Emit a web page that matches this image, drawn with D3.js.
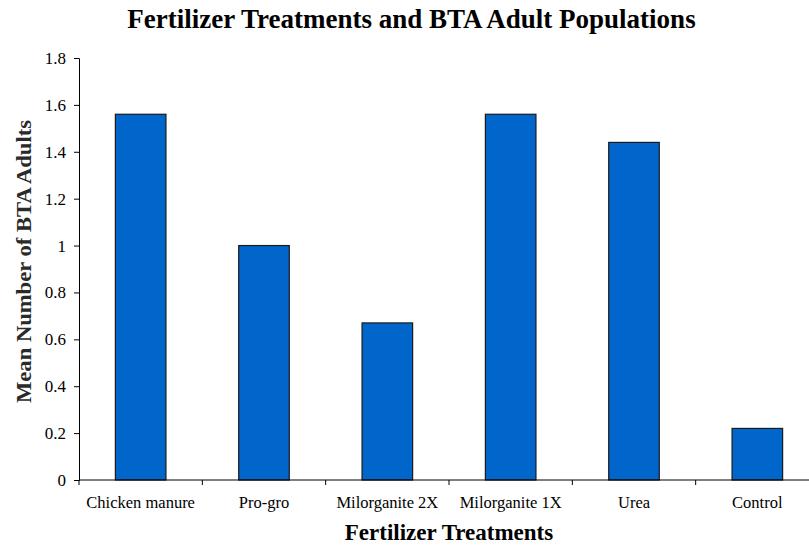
<!DOCTYPE html>
<html lang="en">
<head>
    <meta charset="UTF-8">
    <title>Fertilizer Treatments and BTA Adult Populations</title>
    <style>
        body, html { margin: 0; padding: 0; background: #ffffff; }
        svg { display: block; }
        svg text { font-family: "Liberation Serif", "Times New Roman", serif; }
    </style>
</head>
<body>
    <div id="chart"></div>
    <script src="https://d3js.org/d3.v7.min.js"></script>
    <script>
        // Chart data
        const treatments = ["Chicken manure", "Pro-gro", "Milorganite 2X", "Milorganite 1X", "Urea", "Control"];
        const meanAdults = [1.56, 1.0, 0.67, 1.56, 1.44, 0.22];
        const yTicks = [0, 0.2, 0.4, 0.6, 0.8, 1, 1.2, 1.4, 1.6, 1.8];

        const width = 809, height = 547;
        // plot area runs off the right edge, like the original
        const plot = { left: 79, right: 819, top: 58, bottom: 480 };

        const svg = d3.select("#chart").append("svg")
            .attr("width", width)
            .attr("height", height);

        const x = d3.scaleBand()
            .domain(treatments)
            .range([plot.left, plot.right])
            .paddingInner(0.59)
            .paddingOuter(0.295);

        const xCat = d3.scaleBand()
            .domain(treatments)
            .range([plot.left, plot.right]);

        const y = d3.scaleLinear()
            .domain([0, 1.8])
            .range([plot.bottom, plot.top]);

        // Bars
        svg.append("g")
            .selectAll("rect")
            .data(treatments)
            .join("rect")
            .attr("x", d => x(d))
            .attr("width", x.bandwidth())
            .attr("y", (d, i) => y(meanAdults[i]))
            .attr("height", (d, i) => y(0) - y(meanAdults[i]))
            .attr("fill", "#0066cc")
            .attr("stroke", "#1a1a1a")
            .attr("stroke-width", 1.2);

        // Y axis
        const yAxis = svg.append("g")
            .attr("transform", `translate(${plot.left},0)`)
            .call(d3.axisLeft(y).tickValues(yTicks).tickSize(5).tickFormat(d3.format("")));
        yAxis.attr("font-family", null);
        yAxis.select(".domain").attr("stroke", "#000");
        yAxis.selectAll(".tick line").attr("stroke", "#000");
        yAxis.selectAll(".tick text")
            .attr("x", -13)
            .attr("fill", "#000")
            .style("font-size", "17px");

        // X axis: ticks between categories
        const xAxis = svg.append("g")
            .attr("transform", `translate(0,${plot.bottom})`);
        xAxis.append("line")
            .attr("x1", plot.left).attr("x2", plot.right)
            .attr("y1", 0).attr("y2", 0)
            .attr("stroke", "#000");
        xAxis.selectAll(".sep")
            .data(treatments)
            .join("line")
            .attr("class", "sep")
            .attr("x1", d => xCat(d)).attr("x2", d => xCat(d))
            .attr("y1", 0).attr("y2", 5)
            .attr("stroke", "#000");
        xAxis.selectAll(".cat")
            .data(treatments)
            .join("text")
            .attr("class", "cat")
            .attr("x", d => xCat(d) + xCat.bandwidth() / 2)
            .attr("y", 28)
            .attr("text-anchor", "middle")
            .style("font-size", "16.5px")
            .text(d => d);

        // Titles
        svg.append("text")
            .attr("x", 411.5)
            .attr("y", 28)
            .attr("text-anchor", "middle")
            .style("font-weight", "bold")
            .style("font-size", "27px")
            .text("Fertilizer Treatments and BTA Adult Populations");

        svg.append("text")
            .attr("x", 449)
            .attr("y", 540)
            .attr("text-anchor", "middle")
            .style("font-weight", "bold")
            .style("font-size", "23px")
            .text("Fertilizer Treatments");

        svg.append("text")
            .attr("transform", "translate(31,261.5) rotate(-90)")
            .attr("text-anchor", "middle")
            .attr("fill", "#2a2a2a")
            .attr("textLength", 283)
            .attr("lengthAdjust", "spacingAndGlyphs")
            .style("font-weight", "bold")
            .style("font-size", "22px")
            .text("Mean Number of BTA Adults");
    </script>
</body>
</html>
